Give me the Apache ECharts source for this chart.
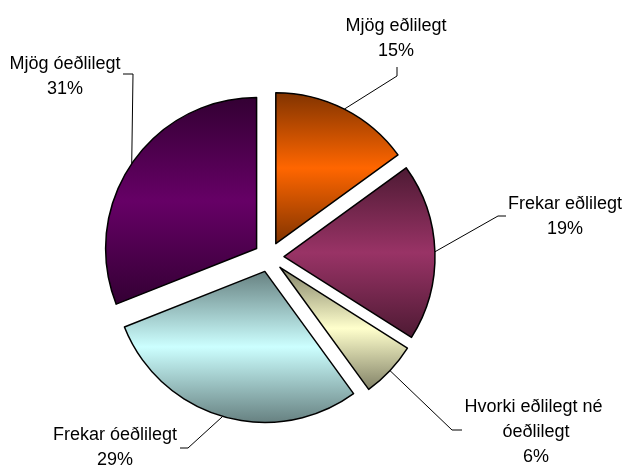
<!DOCTYPE html>
<html>
<head>
<meta charset="utf-8">
<script src="https://cdn.jsdelivr.net/npm/echarts@6/dist/echarts.min.js"></script>
<style>
html,body{margin:0;padding:0;background:#fff;}
#chart{width:627px;height:467px;}
</style>
</head>
<body>
<div id="chart"></div>
<script>
// Data
const categories = ['Mjög eðlilegt', 'Frekar eðlilegt', 'Hvorki eðlilegt né óeðlilegt', 'Frekar óeðlilegt', 'Mjög óeðlilegt'];
const values = [15, 19, 6, 29, 31];
const baseColors = ['#ff6600', '#993366', '#ffffcc', '#ccffff', '#660066'];
const darkColors = ['#803300', '#4d1a33', '#808066', '#668080', '#330033'];

// Label layout (positions of the label text blocks and label-line bends)
const labelCenters = [[396, 39], [565, 217], [536, 432], [115, 448], [65, 77]];
const lineBends = [[[397, 76], [397, 67]], [[498, 216], [506, 216]], [[452, 430], [462, 430]], [[188, 448], [180, 448]], [[133, 74], [123, 74]]];

const CENTER = [269, 257];
const RADIUS = 151;
const EXPLODE = 15;

const chart = echarts.init(document.getElementById('chart'), null, {renderer: 'canvas'});

const sliceData = categories.map((name, i) => ({
  name: name,
  value: values[i],
  selected: true,
  itemStyle: {
    color: {
      type: 'linear', x: 0, y: 0, x2: 0, y2: 1,
      colorStops: [
        {offset: 0, color: darkColors[i]},
        {offset: 0.5, color: baseColors[i]},
        {offset: 1, color: darkColors[i]}
      ]
    }
  }
}));

const labelData = categories.map((name, i) => ({name: name, value: values[i]}));

chart.setOption({
  animation: false,
  backgroundColor: '#ffffff',
  series: [{
    type: 'pie',
    center: CENTER,
    radius: RADIUS,
    startAngle: 90,
    clockwise: true,
    selectedMode: 'multiple',
    selectedOffset: EXPLODE,
    itemStyle: {borderColor: '#000', borderWidth: 1.5},
    label: {show: false},
    labelLine: {show: false},
    emphasis: {disabled: true},
    silent: true,
    data: sliceData
  }, {
    // label carrier: same angles, radius reaching the exploded slices' outer edge
    type: 'pie',
    center: CENTER,
    radius: RADIUS + EXPLODE,
    startAngle: 90,
    clockwise: true,
    silent: true,
    avoidLabelOverlap: false,
    itemStyle: {color: 'rgba(0,0,0,0)', borderWidth: 0},
    emphasis: {disabled: true},
    label: {
      show: true,
      position: 'outside',
      formatter: '{b}\n{d}%',
      color: '#000',
      fontSize: 18,
      lineHeight: 25,
      fontFamily: 'Liberation Sans, Arial, sans-serif',
      align: 'center',
      width: 175,
      overflow: 'break'
    },
    labelLine: {show: true, lineStyle: {color: '#000', width: 1}},
    labelLayout: function (params) {
      const i = params.dataIndex;
      const pts = params.labelLinePoints;
      const p0 = pts ? pts[0] : lineBends[i][0];
      return {
        x: labelCenters[i][0],
        y: labelCenters[i][1],
        align: 'center',
        verticalAlign: 'middle',
        labelLinePoints: [p0, lineBends[i][0], lineBends[i][1]]
      };
    },
    data: labelData
  }]
});
</script>
</body>
</html>
